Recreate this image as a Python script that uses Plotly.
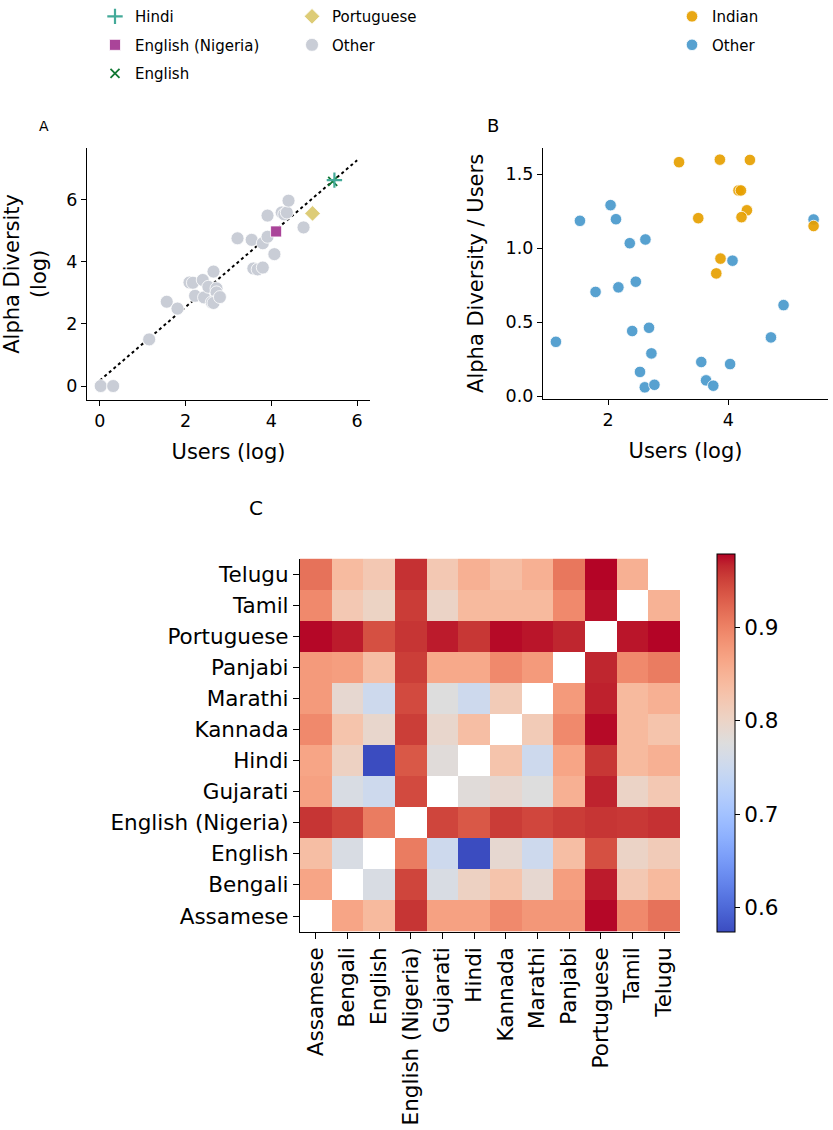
import numpy as np
import plotly.graph_objects as go

FONT = "DejaVu Sans"

# ---------------- Panel A data (log users vs log alpha diversity) -------------
other_a_x = [0.02, 0.31, 1.15, 1.56, 1.81, 2.09, 2.17, 2.40, 2.65, 2.22, 2.43, 2.53,
             2.72, 2.72, 2.61, 2.65, 2.80, 3.21, 3.54, 3.80, 3.91, 3.58, 3.68, 3.80,
             4.07, 3.91, 4.24, 4.30, 4.36, 4.40, 4.75]
other_a_y = [0.00, 0.00, 1.50, 2.71, 2.49, 3.33, 3.32, 3.41, 3.68, 2.90, 2.85, 3.19,
             3.14, 3.01, 2.69, 2.67, 2.86, 4.75, 4.70, 4.59, 4.80, 3.78, 3.75, 3.81,
             4.24, 5.48, 5.58, 5.52, 5.58, 5.96, 5.10]
hindi_x, hindi_y = [5.47], [6.62]
eng_ng_x, eng_ng_y = [4.11], [4.97]
english_x, english_y = [5.43], [6.58]
portuguese_x, portuguese_y = [4.96], [5.55]
trend_slope = 1.18
trend_intercept = 0.18
trend_x = [0.0, 6.0]

# ---------------- Panel B data -------------------------------------------------
other_b_x = [1.13, 1.53, 2.04, 2.13, 1.79, 2.17, 2.36, 2.62, 2.46, 2.40, 2.68, 2.72,
             2.53, 2.61, 2.77, 3.55, 3.63, 3.75, 4.03, 4.07, 4.71, 4.92, 5.42]
other_b_y = [0.367, 1.184, 1.290, 1.195, 0.704, 0.735, 1.033, 1.058, 0.773, 0.440,
             0.462, 0.289, 0.164, 0.060, 0.077, 0.231, 0.107, 0.071, 0.217, 0.915,
             0.397, 0.615, 1.193]
indian_x = [3.18, 3.86, 4.36, 4.17, 4.21, 4.31, 4.22, 3.50, 3.87, 3.80, 5.42]
indian_y = [1.580, 1.597, 1.595, 1.389, 1.389, 1.255, 1.209, 1.202, 0.929, 0.829, 1.149]

# ---------------- Panel C data (similarity heatmap) ---------------------------
languages = ["Assamese", "Bengali", "English", "English (Nigeria)", "Gujarati", "Hindi",
             "Kannada", "Marathi", "Panjabi", "Portuguese", "Tamil", "Telugu"]
nan = float("nan")
row_assamese = [nan, 0.865, 0.841, 0.958, 0.870, 0.870, 0.893, 0.880, 0.880, 0.977, 0.893, 0.913]
row_bengali = [0.865, nan, 0.768, 0.948, 0.768, 0.804, 0.827, 0.790, 0.873, 0.970, 0.820, 0.841]
row_english = [0.835, 0.768, nan, 0.905, 0.752, 0.574, 0.790, 0.752, 0.835, 0.940, 0.800, 0.815]
row_eng_ng = [0.958, 0.948, 0.905, nan, 0.948, 0.934, 0.954, 0.947, 0.954, 0.958, 0.956, 0.960]
row_gujarati = [0.870, 0.768, 0.752, 0.944, nan, 0.780, 0.790, 0.776, 0.853, 0.967, 0.800, 0.820]
row_hindi = [0.865, 0.804, 0.574, 0.934, 0.780, nan, 0.827, 0.752, 0.865, 0.957, 0.841, 0.853]
row_kannada = [0.893, 0.827, 0.794, 0.953, 0.794, 0.835, nan, 0.816, 0.893, 0.976, 0.841, 0.827]
row_marathi = [0.877, 0.790, 0.752, 0.944, 0.776, 0.752, 0.816, nan, 0.877, 0.968, 0.841, 0.853]
row_panjabi = [0.877, 0.873, 0.835, 0.953, 0.861, 0.861, 0.893, 0.877, nan, 0.966, 0.893, 0.905]
row_portuguese = [0.977, 0.970, 0.940, 0.958, 0.970, 0.957, 0.976, 0.972, 0.966, nan, 0.972, 0.978]
row_tamil = [0.893, 0.820, 0.802, 0.954, 0.800, 0.841, 0.841, 0.841, 0.893, 0.974, nan, 0.851]
row_telugu = [0.913, 0.839, 0.820, 0.960, 0.820, 0.853, 0.835, 0.853, 0.909, 0.978, 0.853, nan]
heat_z = [row_assamese, row_bengali, row_english, row_eng_ng, row_gujarati, row_hindi,
          row_kannada, row_marathi, row_panjabi, row_portuguese, row_tamil, row_telugu]
cbar_ticks = [0.6, 0.7, 0.8, 0.9]

coolwarm = [
    (59, 76, 192), (68, 90, 204), (77, 104, 215), (87, 117, 225), (98, 130, 234),
    (108, 142, 241), (119, 154, 247), (130, 165, 251), (141, 176, 254), (152, 185, 255),
    (163, 194, 255), (174, 201, 253), (184, 208, 249), (194, 213, 244), (204, 217, 238),
    (213, 219, 230), (221, 221, 221), (229, 216, 209), (236, 211, 197), (241, 204, 185),
    (245, 196, 173), (247, 187, 160), (247, 177, 148), (247, 166, 135), (244, 154, 123),
    (241, 141, 111), (236, 127, 99), (229, 112, 88), (222, 96, 77), (213, 80, 66),
    (203, 62, 56), (192, 40, 47), (180, 4, 38)]
colorscale = [[i / (len(coolwarm) - 1), "rgb(%d,%d,%d)" % c] for i, c in enumerate(coolwarm)]

W, H = 833, 1130
def px_x(p): return p / W
def px_y(p): return 1 - p / H

TICK = 17.5
HTICK = 21.5
TITLE = 21
LEG = 15
GRAY = "#c9cdd6"
fig = go.Figure()

tx = np.array(trend_x)
fig.add_trace(go.Scatter(x=tx, y=trend_slope * tx + trend_intercept, mode="lines",
                         line=dict(color="black", width=2, dash="dot"),
                         showlegend=False, xaxis="x", yaxis="y", hoverinfo="skip"))
fig.add_trace(go.Scatter(x=other_a_x, y=other_a_y, mode="markers", name="Other",
                         marker=dict(color=GRAY, size=13, line=dict(color="white", width=0.8)),
                         legend="legend2", legendrank=2, legendgroup="o2", xaxis="x", yaxis="y"))
fig.add_trace(go.Scatter(x=portuguese_x, y=portuguese_y, mode="markers", name="Portuguese",
                         marker=dict(color="#DDCC77", size=12, symbol="diamond",
                                     line=dict(color="white", width=0.8)),
                         legend="legend2", legendrank=1, legendgroup="p2", xaxis="x", yaxis="y"))
fig.add_trace(go.Scatter(x=english_x, y=english_y, mode="markers", name="English",
                         marker=dict(color="#117733", size=9, symbol="x-thin",
                                     line=dict(color="#117733", width=1.8)),
                         legend="legend", legendrank=3, legendgroup="e1", xaxis="x", yaxis="y"))
fig.add_trace(go.Scatter(x=hindi_x, y=hindi_y, mode="markers", name="Hindi",
                         marker=dict(color="#44AA99", size=11, symbol="cross-thin",
                                     line=dict(color="#44AA99", width=2.2)),
                         legend="legend", legendrank=1, legendgroup="h1", xaxis="x", yaxis="y"))
fig.add_trace(go.Scatter(x=eng_ng_x, y=eng_ng_y, mode="markers", name="English (Nigeria)",
                         marker=dict(color="#AA4499", size=11, symbol="square",
                                     line=dict(color="white", width=0.8)),
                         legend="legend", legendrank=2, legendgroup="n1", xaxis="x", yaxis="y"))

fig.add_trace(go.Scatter(x=other_b_x, y=other_b_y, mode="markers", name="Other",
                         marker=dict(color="rgba(78,156,205,0.95)", size=11.5,
                                     line=dict(color="white", width=0.8)),
                         legend="legend3", legendrank=2, legendgroup="o3", xaxis="x2", yaxis="y2"))
fig.add_trace(go.Scatter(x=indian_x, y=indian_y, mode="markers", name="Indian",
                         marker=dict(color="rgba(230,159,0,0.92)", size=11.5,
                                     line=dict(color="white", width=0.8)),
                         legend="legend3", legendrank=1, legendgroup="i3", xaxis="x2", yaxis="y2"))

fig.add_trace(go.Heatmap(z=heat_z, x=languages, y=languages, colorscale=colorscale,
                         zmin=0.574, zmax=0.978, xaxis="x3", yaxis="y3", hoverongaps=False,
                         colorbar=dict(x=px_x(717), xanchor="left", xpad=0, ypad=0,
                                       y=px_y(746), yanchor="middle", lenmode="pixels", len=378,
                                       thicknessmode="pixels", thickness=18,
                                       outlinecolor="black", outlinewidth=1,
                                       tickvals=cbar_ticks, tickformat=".1f",
                                       ticks="outside", ticklen=5, tickwidth=1.2,
                                       tickcolor="black",
                                       tickfont=dict(family=FONT, size=HTICK, color="black"))))

axis_common = dict(showline=True, linecolor="black", linewidth=1.2, ticks="outside",
                   ticklen=5, tickwidth=1.2, tickcolor="black", showgrid=False,
                   zeroline=False, tickfont=dict(family=FONT, size=TICK, color="black"))
heat_axis = dict(axis_common, ticklen=6, tickfont=dict(family=FONT, size=HTICK, color="black"))

legend_common = dict(font=dict(family=FONT, size=LEG, color="black"), bgcolor="rgba(0,0,0,0)",
                     borderwidth=0, tracegroupgap=6, xanchor="left", yanchor="top",
                     orientation="v", itemclick=False, y=1 + 7 / H)

fig.update_layout(
    width=W, height=H, margin=dict(l=0, r=0, t=0, b=0),
    plot_bgcolor="white", paper_bgcolor="white",
    font=dict(family=FONT, color="black"),
    xaxis=dict(domain=[px_x(87), px_x(370)], range=[-0.3, 6.3], tickvals=[0, 2, 4, 6],
               anchor="y", title=dict(text="Users (log)", font=dict(size=TITLE), standoff=14),
               **axis_common),
    yaxis=dict(domain=[px_y(398), px_y(143)], range=[-0.44, 7.65], tickvals=[0, 2, 4, 6],
               anchor="x", title=dict(text="Alpha Diversity<br>(log)", font=dict(size=TITLE),
                                      standoff=13),
               **axis_common),
    xaxis2=dict(domain=[px_x(543), px_x(828)], range=[0.915, 5.66], tickvals=[2, 4],
                anchor="y2", title=dict(text="Users (log)", font=dict(size=TITLE), standoff=14),
                **axis_common),
    yaxis2=dict(domain=[px_y(397), px_y(143)], range=[-0.017, 1.675],
                tickvals=[0.0, 0.5, 1.0, 1.5], tickformat=".1f", anchor="x2",
                title=dict(text="Alpha Diversity / Users", font=dict(size=TITLE), standoff=16),
                **axis_common),
    xaxis3=dict(domain=[px_x(300), px_x(680)], anchor="y3", type="category",
                range=[-0.5, 11.5], tickangle=-90, **heat_axis),
    yaxis3=dict(domain=[px_y(937), px_y(559)], anchor="x3", type="category",
                range=[-0.5, 11.5], **heat_axis),
    legend=dict(x=px_x(95), **legend_common),
    legend2=dict(x=px_x(292), **legend_common),
    legend3=dict(x=px_x(672), **legend_common),
    annotations=[
        dict(text="A", x=px_x(37), y=px_y(110), xref="paper", yref="paper",
             showarrow=False, font=dict(family=FONT, size=14, color="black")),
        dict(text="B", x=px_x(493), y=px_y(107), xref="paper", yref="paper",
             showarrow=False, font=dict(family=FONT, size=18, color="black")),
        dict(text="C", x=px_x(247), y=px_y(508), xref="paper", yref="paper",
             showarrow=False, font=dict(family=FONT, size=20, color="black")),
    ],
)

fig.write_html("out.html", config={"displayModeBar": False},
               post_script="document.body.style.margin='0';")
